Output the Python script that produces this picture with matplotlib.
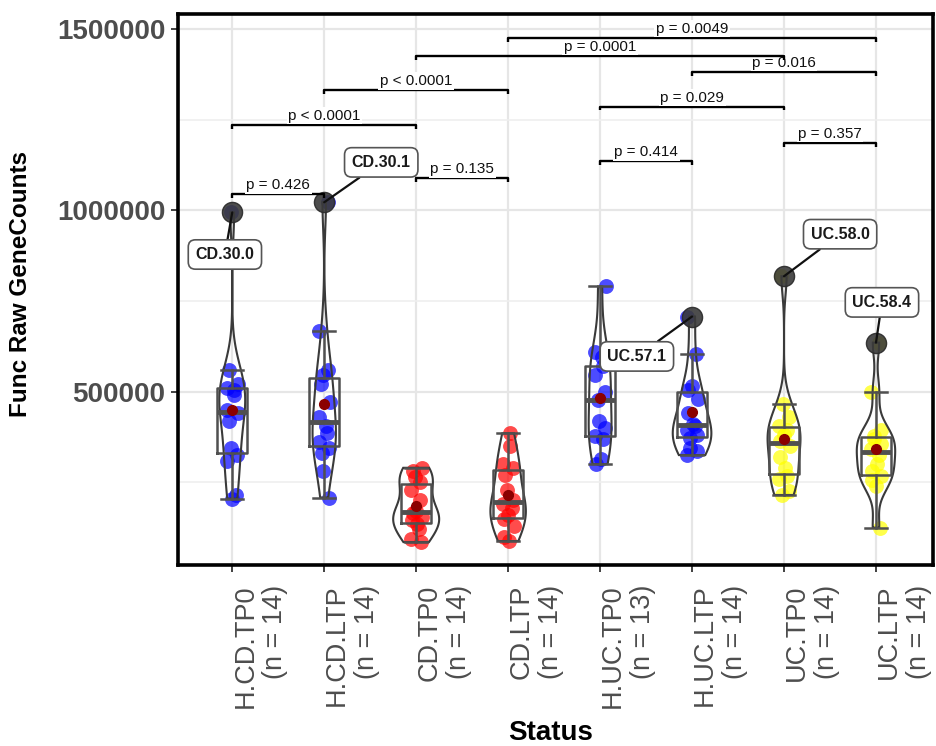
import numpy as np
import matplotlib
matplotlib.use("Agg")
import matplotlib.pyplot as plt
from matplotlib.patches import Polygon

# ---------------- data ----------------
categories = ["H.CD.TP0", "H.CD.LTP", "CD.TP0", "CD.LTP",
              "H.UC.TP0", "H.UC.LTP", "UC.TP0", "UC.LTP"]

h_cd_tp0 = [205000, 215000, 310000, 325000, 345000, 420000, 440000,
            450000, 490000, 505000, 510000, 520000, 560000, 994000]
h_cd_ltp = [208000, 280000, 330000, 345000, 360000, 385000, 405000,
            430000, 470000, 520000, 545000, 560000, 666000, 1022000]
cd_tp0 = [85000, 95000, 120000, 135000, 145000, 155000, 165000,
          172000, 200000, 230000, 250000, 265000, 280000, 290000]
cd_ltp = [88000, 100000, 130000, 150000, 160000, 180000, 190000,
          200000, 230000, 270000, 290000, 300000, 350000, 385000]
h_uc_tp0 = [300000, 315000, 370000, 378000, 400000, 420000, 478000,
            500000, 545000, 570000, 595000, 610000, 790000]
h_uc_ltp = [325000, 335000, 345000, 372000, 380000, 395000, 405000,
            412000, 440000, 480000, 505000, 515000, 605000, 707000]
uc_tp0 = [215000, 225000, 260000, 268000, 290000, 320000, 350000,
          365000, 380000, 395000, 405000, 430000, 465000, 818000]
uc_ltp = [125000, 240000, 255000, 268000, 280000, 300000, 325000,
          342000, 355000, 370000, 378000, 395000, 500000, 635000]

group_values = [h_cd_tp0, h_cd_ltp, cd_tp0, cd_ltp,
                h_uc_tp0, h_uc_ltp, uc_tp0, uc_ltp]
group_colors = ["#0000FF", "#0000FF", "#FF0000", "#FF0000",
                "#0000FF", "#0000FF", "#FFFF00", "#FFFF00"]

outlier_names = {"H.CD.TP0": "CD.30.0", "H.CD.LTP": "CD.30.1",
                 "H.UC.LTP": "UC.57.1", "UC.TP0": "UC.58.0",
                 "UC.LTP": "UC.58.4"}

# comparisons: (group a, group b, p label)
comparisons = [("H.CD.TP0", "H.CD.LTP", "p = 0.426"),
               ("CD.TP0", "CD.LTP", "p = 0.135"),
               ("H.UC.TP0", "H.UC.LTP", "p = 0.414"),
               ("UC.TP0", "UC.LTP", "p = 0.357"),
               ("H.CD.TP0", "CD.TP0", "p < 0.0001"),
               ("H.UC.TP0", "UC.TP0", "p = 0.029"),
               ("H.CD.LTP", "CD.LTP", "p < 0.0001"),
               ("H.UC.LTP", "UC.LTP", "p = 0.016"),
               ("CD.TP0", "UC.TP0", "p = 0.0001"),
               ("CD.LTP", "UC.LTP", "p = 0.0049")]

# ---------------- layout (positions / styles) ----------------
bracket_y = [1044000, 1088000, 1135000, 1185000, 1235000,
             1285000, 1331000, 1381000, 1425000, 1475000]
label_pos = {"CD.30.0": (0.92, 878000), "CD.30.1": (2.62, 1132000),
             "UC.57.1": (5.40, 597000), "UC.58.0": (7.61, 934000),
             "UC.58.4": (8.065, 746000)}

FONT = "Liberation Sans"
plt.rcParams["font.family"] = [FONT, "DejaVu Sans"]

fig = plt.figure(figsize=(9.37, 7.46), dpi=100)
ax = fig.add_axes([178 / 937, 1 - 565 / 746, (933 - 178) / 937, (565 - 14) / 746])

positions = np.arange(1, len(categories) + 1)
ax.set_xlim(0.41, 8.62)
ax.set_ylim(22000, 1541000)

# grid
ax.set_yticks([500000, 1000000, 1500000])
ax.set_yticks([250000, 750000, 1250000], minor=True)
ax.grid(True, which="major", color="#e6e6e6", lw=1.6, zorder=0)
ax.grid(True, which="minor", axis="y", color="#eeeeee", lw=1.1, zorder=0)
ax.set_axisbelow(True)


def kde_nrd0(v, grid):
    v = np.asarray(v, float)
    n = len(v)
    sd = v.std(ddof=1)
    q1, q3 = np.percentile(v, [25, 75])
    bw = 0.9 * min(sd, (q3 - q1) / 1.34) * n ** (-0.2)
    z = (grid[:, None] - v[None, :]) / bw
    return np.exp(-0.5 * z ** 2).sum(axis=1) / (n * bw * np.sqrt(2 * np.pi))


grids, dens = [], []
for v in group_values:
    g = np.linspace(min(v), max(v), 512)
    grids.append(g)
    dens.append(kde_nrd0(v, g))
gmax = max(d.max() for d in dens)
max_half = 0.25

for i, (v, col) in enumerate(zip(group_values, group_colors)):
    pos = positions[i]
    v = np.asarray(v, float)
    n = len(v)
    # jittered points (deterministic offsets)
    jit = 0.06 * np.sin(np.arange(n) * 2.39996 + i)
    ax.scatter(pos + jit, v, s=115, color=col, alpha=0.7, lw=0, zorder=2)
    # violin
    hw = dens[i] / gmax * max_half
    xs = np.concatenate([pos - hw, (pos + hw)[::-1]])
    ys = np.concatenate([grids[i], grids[i][::-1]])
    ax.add_patch(Polygon(np.column_stack([xs, ys]), closed=True, fill=False,
                         edgecolor="#3a3a3a", lw=1.5, zorder=3))

# boxplots
ax.boxplot(group_values, positions=positions, widths=0.33, whis=1.5,
           showfliers=False, patch_artist=False, manage_ticks=False,
           capwidths=0.24,
           boxprops=dict(color="#505050", lw=1.8),
           whiskerprops=dict(color="#505050", lw=1.8),
           capprops=dict(color="#505050", lw=1.8),
           medianprops=dict(color="#505050", lw=3.5),
           zorder=4)

# means, outliers, labels
for i, v in enumerate(group_values):
    pos = positions[i]
    v = np.asarray(v, float)
    ax.plot(pos, v.mean(), "o", color="#8B0000", ms=7, zorder=5)
    q1, q3 = np.percentile(v, [25, 75])
    iqr = q3 - q1
    outs = v[(v > q3 + 1.5 * iqr) | (v < q1 - 1.5 * iqr)]
    for o in outs:
        ax.plot(pos, o, "o", color="#3a3a3a", alpha=0.9, ms=14.5,
                mec="#2a2a2a", zorder=6)
        name = outlier_names.get(categories[i])
        if name:
            ax.annotate(name, xy=(pos, o), xytext=label_pos[name],
                        ha="center", va="center", fontsize=11.5,
                        fontweight="bold", color="#1a1a1a", zorder=8,
                        bbox=dict(boxstyle="round,pad=0.45", fc="white",
                                  ec="#555555", lw=1.2),
                        arrowprops=dict(arrowstyle="-", color="#111111",
                                        lw=1.6, shrinkA=0, shrinkB=0),
                        annotation_clip=False)

# significance brackets
tip = 10000
for (a, b, lab), y in zip(comparisons, bracket_y):
    xa = positions[categories.index(a)]
    xb = positions[categories.index(b)]
    ax.plot([xa, xa, xb, xb], [y - tip, y, y, y - tip], color="black",
            lw=1.7, zorder=7, solid_capstyle="butt")
    ax.text((xa + xb) / 2, y + 6000, lab, ha="center", va="bottom",
            fontsize=11, color="#111111", zorder=7,
            bbox=dict(boxstyle="square,pad=0.1", fc="white", ec="none"))

# axes styling
xt = [f"{c}\n(n = {len(v)})" for c, v in zip(categories, group_values)]
ax.set_xticks(positions)
ax.set_xticklabels(xt, rotation=90, ha="left", va="top",
                   multialignment="right", fontsize=19.5, color="#4d4d4d")
ax.set_yticklabels(["500000", "1000000", "1500000"], fontsize=20,
                   fontweight="bold", color="#4d4d4d")
ax.tick_params(axis="both", which="major", length=5, width=1.3,
               color="#333333", pad=4)
ax.tick_params(axis="x", pad=9)
ax.tick_params(axis="y", which="minor", length=0)
for sp in ax.spines.values():
    sp.set_color("black")
    sp.set_linewidth(2.6)

fig.text(21 / 937, 1 - 284 / 746, "Func Raw GeneCounts", rotation=90,
         ha="center", va="center", fontsize=17.5, fontweight="bold")
fig.text(551 / 937, 1 - 733 / 746, "Status", ha="center", va="center",
         fontsize=20, fontweight="bold")

fig.savefig("out.png", dpi=100)
